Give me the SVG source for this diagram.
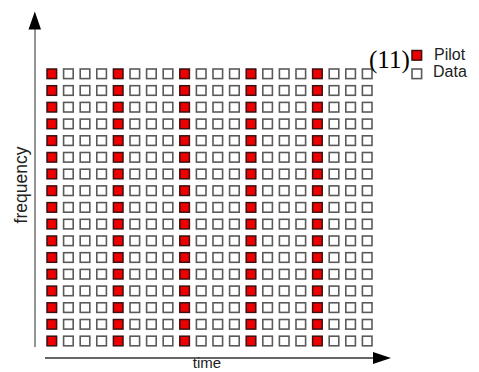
<svg xmlns="http://www.w3.org/2000/svg" xmlns:xlink="http://www.w3.org/1999/xlink" width="479" height="372" viewBox="0 0 479 372">
<style>
.pilot{fill:#ee0000;stroke:#3a1010;stroke-width:1.5}
.data{fill:#ffffff;stroke:#5a5a5a;stroke-width:1.6}
.lbl{font-family:"Liberation Sans",Arial,sans-serif;fill:#222}
.num{font-family:"Liberation Serif","Times New Roman",serif;fill:#000}
</style>
<defs>
<rect id="p" class="pilot" width="9.6" height="9.6"/>
<rect id="d" class="data" width="9.6" height="9.6"/>
<g id="row">
<use href="#p" x="47"/><use href="#d" x="63.6"/><use href="#d" x="80.2"/><use href="#d" x="96.8"/>
<use href="#p" x="113.4"/><use href="#d" x="130"/><use href="#d" x="146.6"/><use href="#d" x="163.2"/>
<use href="#p" x="179.8"/><use href="#d" x="196.4"/><use href="#d" x="213"/><use href="#d" x="229.6"/>
<use href="#p" x="246.2"/><use href="#d" x="262.8"/><use href="#d" x="279.4"/><use href="#d" x="296"/>
<use href="#p" x="312.6"/><use href="#d" x="329.2"/><use href="#d" x="345.8"/><use href="#d" x="362.4"/>
</g>
</defs>
<rect width="479" height="372" fill="#ffffff"/>
<g id="axes">
<line x1="35" y1="347" x2="35" y2="28" stroke="#7a7a7a" stroke-width="1.6"/>
<polygon points="28.5,29.5 41,29.5 34.8,11.5" fill="#000"/>
<line x1="45" y1="358" x2="375" y2="358" stroke="#333" stroke-width="1.4"/>
<polygon points="373,352 373,364 391,358" fill="#000"/>
</g>
<g id="grid">
<use href="#row" y="69"/>
<use href="#row" y="85.7"/>
<use href="#row" y="102.4"/>
<use href="#row" y="119.1"/>
<use href="#row" y="135.8"/>
<use href="#row" y="152.5"/>
<use href="#row" y="169.2"/>
<use href="#row" y="185.9"/>
<use href="#row" y="202.6"/>
<use href="#row" y="219.3"/>
<use href="#row" y="236"/>
<use href="#row" y="252.7"/>
<use href="#row" y="269.4"/>
<use href="#row" y="286.1"/>
<use href="#row" y="302.8"/>
<use href="#row" y="319.5"/>
<use href="#row" y="336.2"/>
</g>
<g id="legend">
<use href="#p" x="412" y="50.5"/>
<use href="#d" x="412" y="69"/>
<text class="lbl" x="434" y="59.5" font-size="16">Pilot</text>
<text class="lbl" x="433" y="77" font-size="16" fill="#2a3545">Data</text>
</g>
<text class="num" x="369" y="68" font-size="25">(11)</text>
<text class="lbl" x="207" y="368" font-size="15" text-anchor="middle">time</text>
<text class="lbl" transform="translate(27,185) rotate(-90)" font-size="17.5" text-anchor="middle">frequency</text>
</svg>
